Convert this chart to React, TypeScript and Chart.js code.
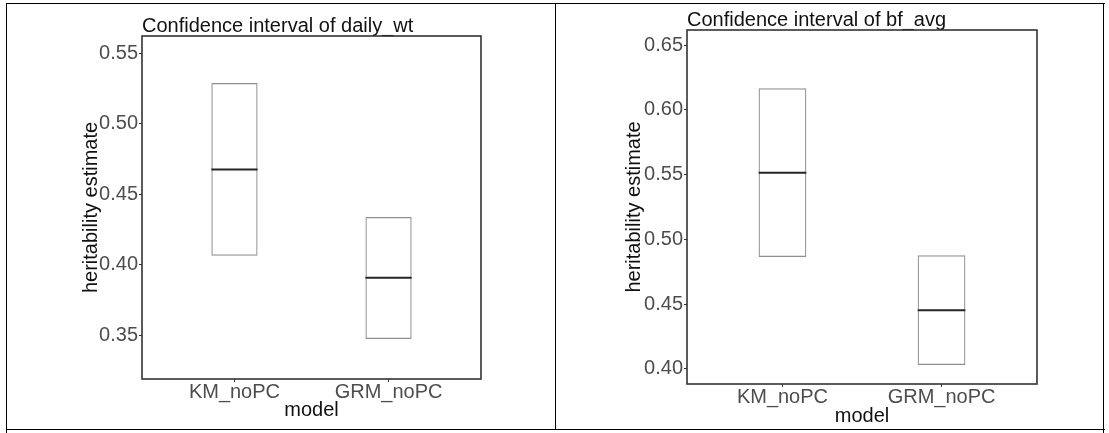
import React, { useEffect, useRef } from "react";
import { Chart, registerables } from "chart.js";

Chart.register(...registerables);

// ---- data ----
const categories = ["KM_noPC", "GRM_noPC"];

const dailyWtLower = [0.4063, 0.3472];
const dailyWtUpper = [0.5289, 0.4338];
const dailyWtEstimate = [0.4676, 0.3907];
const dailyWtTicks = [0.35, 0.4, 0.45, 0.5, 0.55];
const dailyWtRange = [0.3188, 0.5623];

const bfAvgLower = [0.4864, 0.4031];
const bfAvgUpper = [0.6166, 0.4877];
const bfAvgEstimate = [0.5515, 0.4453];
const bfAvgTicks = [0.4, 0.45, 0.5, 0.55, 0.6, 0.65];
const bfAvgRange = [0.3884, 0.6616];

const FONT = "'Liberation Sans', Arial, Helvetica, sans-serif";

type PanelProps = {
  title: string;
  lower: number[];
  upper: number[];
  estimate: number[];
  yTicks: number[];
  yRange: number[];
  left: number;
  width: number;
  height: number;
  yAxisWidth: number;
  xAxisHeight: number;
  padRight: number;
  titlePadTop: number;
  yTitlePad: number;
  xTitlePadBottom: number;
};

function Panel(p: PanelProps) {
  const ref = useRef<HTMLCanvasElement | null>(null);

  useEffect(() => {
    if (!ref.current) return;
    const extras = {
      id: "ciExtras",
      afterDatasetsDraw(chart: any) {
        const { ctx, chartArea } = chart;
        const meta = chart.getDatasetMeta(0);
        const ys = chart.scales.y;
        ctx.save();
        ctx.strokeStyle = "#262626";
        ctx.lineWidth = 2;
        meta.data.forEach((bar: any, i: number) => {
          const { x, width } = bar.getProps(["x", "width"], true);
          const py = ys.getPixelForValue(p.estimate[i]);
          ctx.beginPath();
          ctx.moveTo(x - width / 2, py);
          ctx.lineTo(x + width / 2, py);
          ctx.stroke();
        });
        ctx.strokeStyle = "#333333";
        ctx.lineWidth = 1.6;
        ctx.strokeRect(
          chartArea.left,
          chartArea.top,
          chartArea.right - chartArea.left,
          chartArea.bottom - chartArea.top
        );
        ctx.restore();
      },
    };

    const chart = new Chart(ref.current, {
      type: "bar",
      data: {
        datasets: [
          {
            data: categories.map((_, i) => ({ x: i + 1, y: [p.lower[i], p.upper[i]] })) as any,
            backgroundColor: "rgba(255,255,255,0)",
            borderColor: "#8f8f8f",
            borderWidth: 1.2,
            borderSkipped: false,
            grouped: false,
            categoryPercentage: 1,
            barPercentage: 0.3,
          } as any,
        ],
      },
      options: {
        responsive: false,
        animation: false,
        devicePixelRatio: 1,
        layout: { padding: { left: 0, right: p.padRight, top: 0, bottom: 0 } },
        plugins: {
          legend: { display: false },
          tooltip: { enabled: false },
          title: {
            display: true,
            text: p.title,
            align: "start",
            fullSize: false,
            color: "#111111",
            font: { family: FONT, size: 20, weight: "normal", lineHeight: 1 },
            padding: { top: p.titlePadTop, bottom: 0 },
          } as any,
        },
        scales: {
          x: {
            type: "linear",
            min: 0.4,
            max: 2.6,
            offset: false,
            afterBuildTicks: (s: any) => {
              s.ticks = categories.map((_, i) => ({ value: i + 1 }));
            },
            afterFit: (s: any) => {
              s.height = p.xAxisHeight;
            },
            ticks: {
              autoSkip: false,
              maxRotation: 0,
              padding: 0,
              color: "#4d4d4d",
              font: { family: FONT, size: 20, lineHeight: 1 },
              callback: (v: any) => categories[Math.round(Number(v)) - 1] ?? "",
            },
            grid: {
              display: true,
              offset: false,
              drawOnChartArea: false,
              drawTicks: true,
              tickLength: 3,
              color: "#333333",
            },
            border: { display: false },
            title: {
              display: true,
              text: "model",
              color: "#111111",
              font: { family: FONT, size: 20, lineHeight: 1 },
              padding: { top: 0, bottom: p.xTitlePadBottom },
            },
          },
          y: {
            type: "linear",
            min: p.yRange[0],
            max: p.yRange[1],
            beginAtZero: false,
            afterBuildTicks: (s: any) => {
              s.ticks = p.yTicks.map((v) => ({ value: v }));
            },
            afterFit: (s: any) => {
              s.width = p.yAxisWidth;
            },
            ticks: {
              padding: 1,
              color: "#4d4d4d",
              font: { family: FONT, size: 20, lineHeight: 1 },
              callback: (v: any) => Number(v).toFixed(2),
            },
            grid: {
              display: true,
              drawOnChartArea: false,
              drawTicks: true,
              tickLength: 3,
              color: "#333333",
            },
            border: { display: false },
            title: {
              display: true,
              text: "heritability estimate",
              color: "#111111",
              font: { family: FONT, size: 20, lineHeight: 1 },
              padding: { top: p.yTitlePad, bottom: 0 },
            },
          },
        },
      } as any,
      plugins: [extras],
    });
    return () => chart.destroy();
  }, []);

  return (
    <canvas
      ref={ref}
      width={p.width}
      height={p.height}
      style={{
        position: "absolute",
        left: p.left,
        top: 0,
        width: p.width + "px",
        height: p.height + "px",
      }}
    />
  );
}

const line = (l: number, t: number, w: number, h: number): React.CSSProperties => ({
  position: "absolute",
  left: l,
  top: t,
  width: w,
  height: h,
  background: "#000",
});

export default function App() {
  return (
    <div
      style={{
        position: "absolute",
        left: 0,
        top: 0,
        width: 1109,
        height: 433,
        background: "#fff",
        overflow: "hidden",
      }}
    >
      <div style={line(6, 3, 1099, 1)} />
      <div style={line(6, 429, 1099, 1)} />
      <div style={line(6, 3, 1, 430)} />
      <div style={line(555, 3, 1, 427)} />
      <div style={line(1103, 3, 1, 430)} />
      <Panel
        title="Confidence interval of daily_wt"
        lower={dailyWtLower}
        upper={dailyWtUpper}
        estimate={dailyWtEstimate}
        yTicks={dailyWtTicks}
        yRange={dailyWtRange}
        left={0}
        width={555}
        height={433}
        yAxisWidth={142}
        xAxisHeight={54}
        padRight={74}
        titlePadTop={16}
        yTitlePad={81}
        xTitlePadBottom={13}
      />
      <Panel
        title="Confidence interval of bf_avg"
        lower={bfAvgLower}
        upper={bfAvgUpper}
        estimate={bfAvgEstimate}
        yTicks={bfAvgTicks}
        yRange={bfAvgRange}
        left={555}
        width={554}
        height={433}
        yAxisWidth={132}
        xAxisHeight={49}
        padRight={72}
        titlePadTop={10}
        yTitlePad={69}
        xTitlePadBottom={7}
      />
    </div>
  );
}
